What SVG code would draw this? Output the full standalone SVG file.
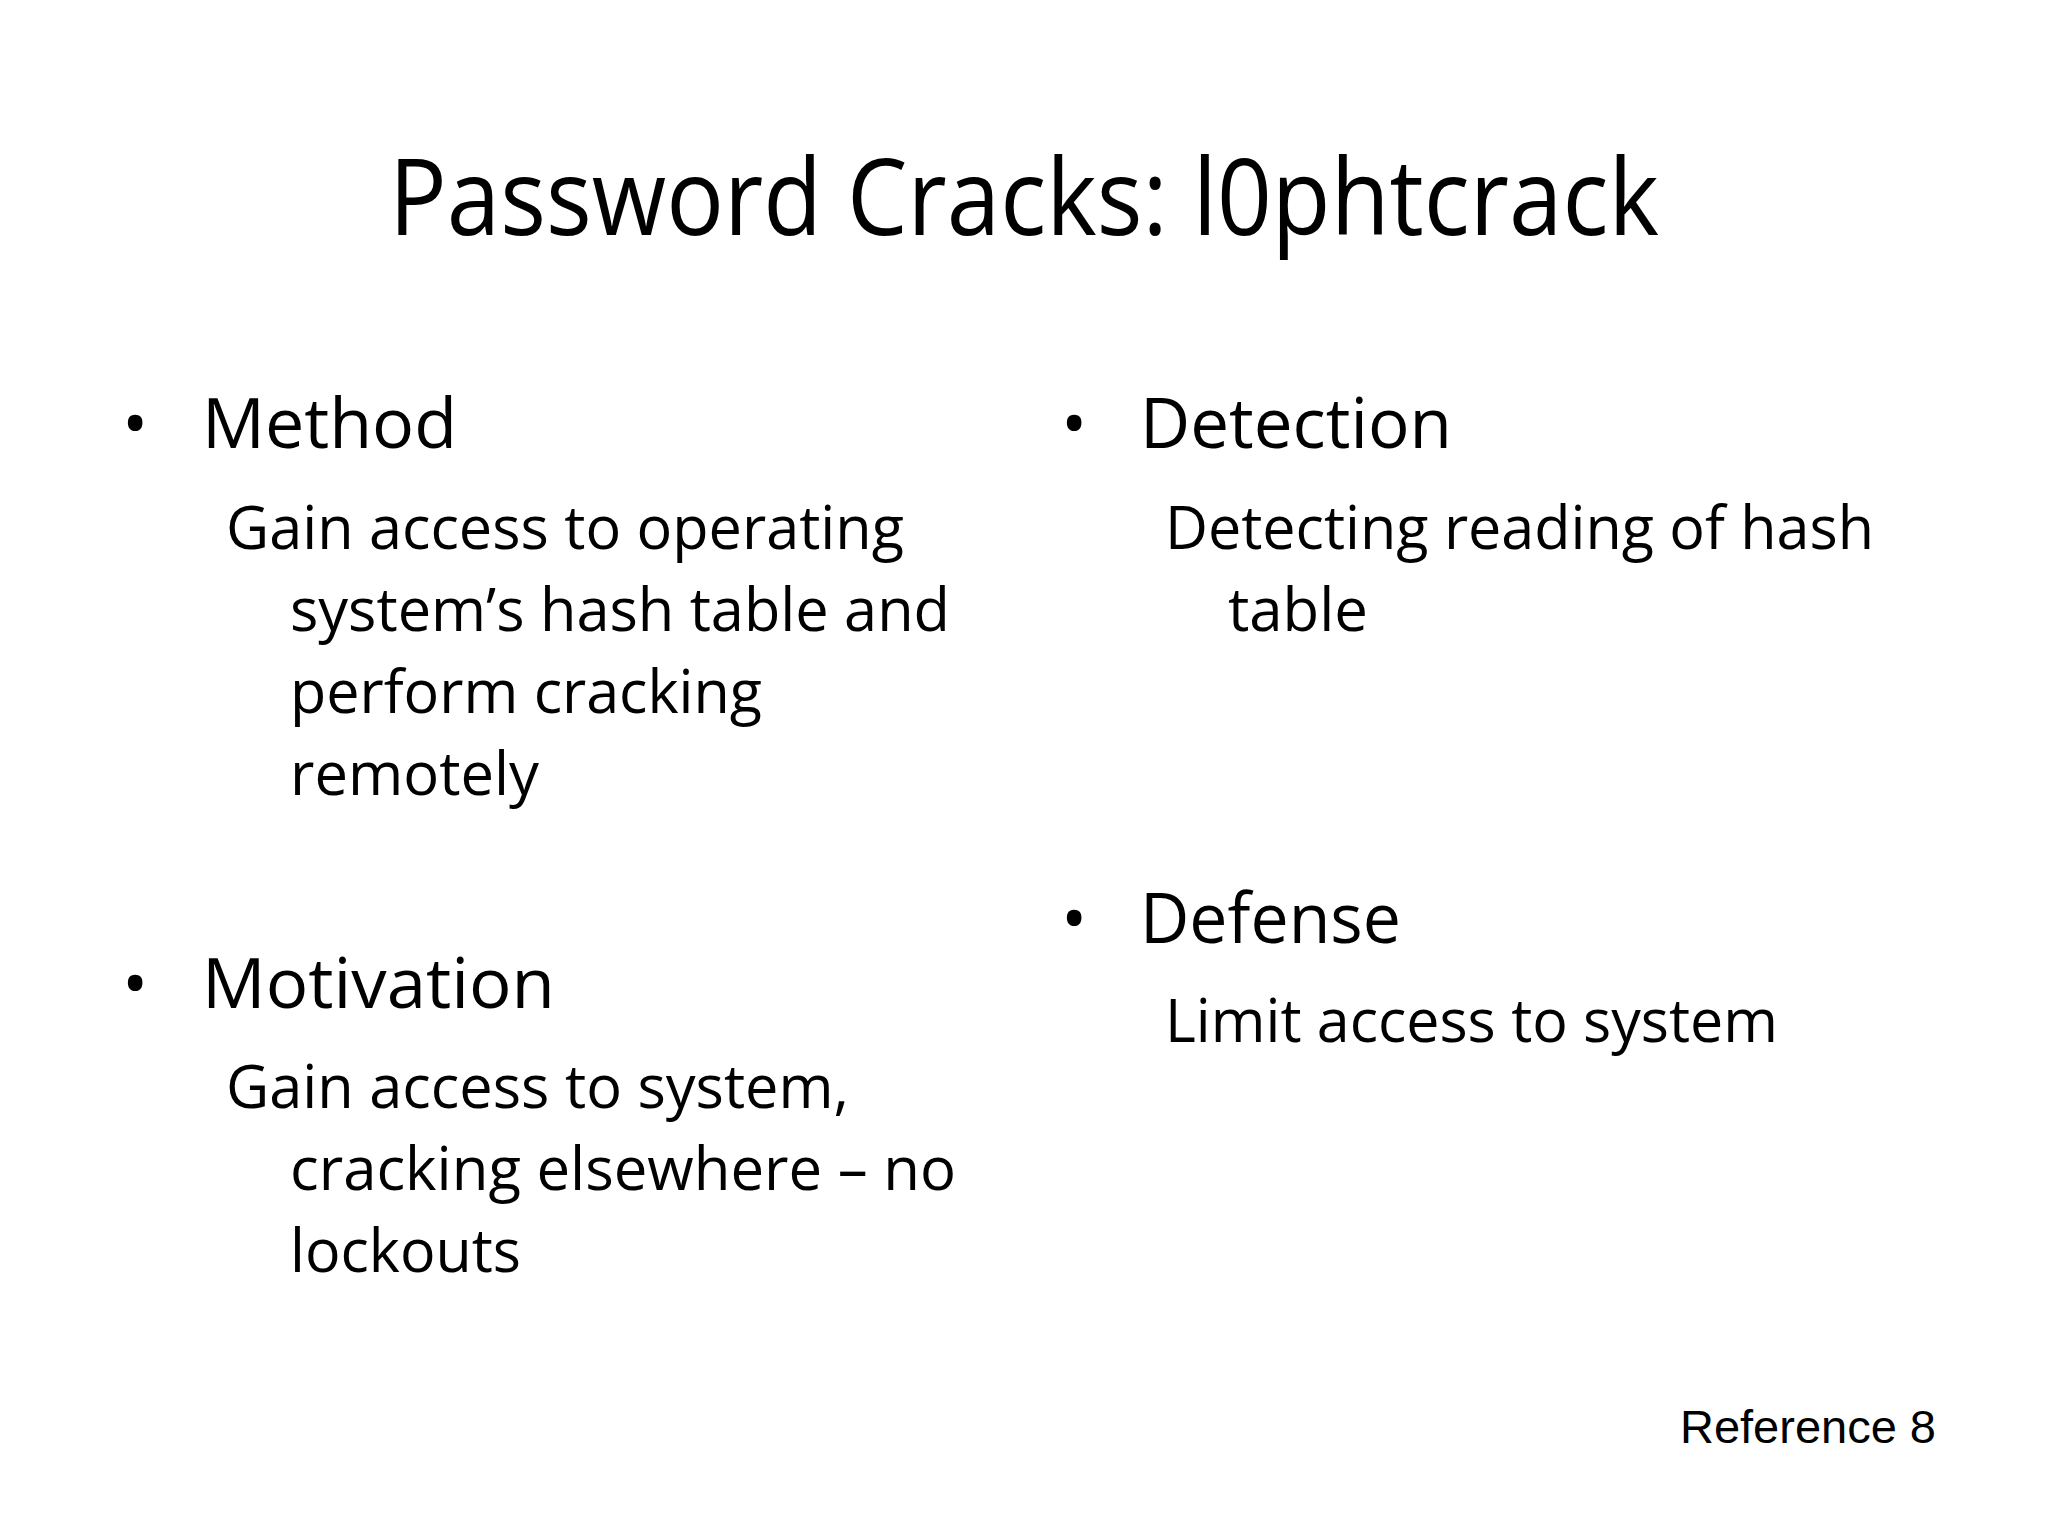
<svg xmlns="http://www.w3.org/2000/svg" width="2048" height="1536" viewBox="0 0 2048 1536">
<style>
.t{font-family:"Open Sans","Noto Sans",sans-serif;fill:#000}
.h{font-size:107px}
.b{font-size:70px}
.s{font-size:60px}
.r{font-family:"Liberation Sans",Arial,sans-serif;font-size:47px;fill:#000}
</style>
<rect width="2048" height="1536" fill="#fff"/>
<text class="t h" x="389" y="235" textLength="1270" lengthAdjust="spacingAndGlyphs">Password Cracks: l0phtcrack</text>
<g id="method">
<text class="t b" x="122" y="448">•</text>
<text class="t b" x="202" y="448" textLength="255" lengthAdjust="spacingAndGlyphs">Method</text>
<text class="t s" x="226" y="549" textLength="678" lengthAdjust="spacingAndGlyphs">Gain access to operating</text>
<text class="t s" x="290" y="631" textLength="660" lengthAdjust="spacingAndGlyphs">system’s hash table and</text>
<text class="t s" x="290" y="713" textLength="472" lengthAdjust="spacingAndGlyphs">perform cracking</text>
<text class="t s" x="290" y="795" textLength="249" lengthAdjust="spacingAndGlyphs">remotely</text>
</g>
<g id="motivation">
<text class="t b" x="122" y="1008">•</text>
<text class="t b" x="202" y="1008" textLength="353" lengthAdjust="spacingAndGlyphs">Motivation</text>
<text class="t s" x="226" y="1108" textLength="623" lengthAdjust="spacingAndGlyphs">Gain access to system,</text>
<text class="t s" x="290" y="1190" textLength="666" lengthAdjust="spacingAndGlyphs">cracking elsewhere – no</text>
<text class="t s" x="290" y="1272" textLength="231" lengthAdjust="spacingAndGlyphs">lockouts</text>
</g>
<g id="detection">
<text class="t b" x="1061" y="448">•</text>
<text class="t b" x="1140" y="448" textLength="312" lengthAdjust="spacingAndGlyphs">Detection</text>
<text class="t s" x="1165" y="549" textLength="709" lengthAdjust="spacingAndGlyphs">Detecting reading of hash</text>
<text class="t s" x="1228" y="631" textLength="140" lengthAdjust="spacingAndGlyphs">table</text>
</g>
<g id="defense">
<text class="t b" x="1061" y="943">•</text>
<text class="t b" x="1140" y="943" textLength="261" lengthAdjust="spacingAndGlyphs">Defense</text>
<text class="t s" x="1165" y="1042" textLength="613" lengthAdjust="spacingAndGlyphs">Limit access to system</text>
</g>
<text class="r" x="1936" y="1443" text-anchor="end">Reference 8</text>
</svg>
